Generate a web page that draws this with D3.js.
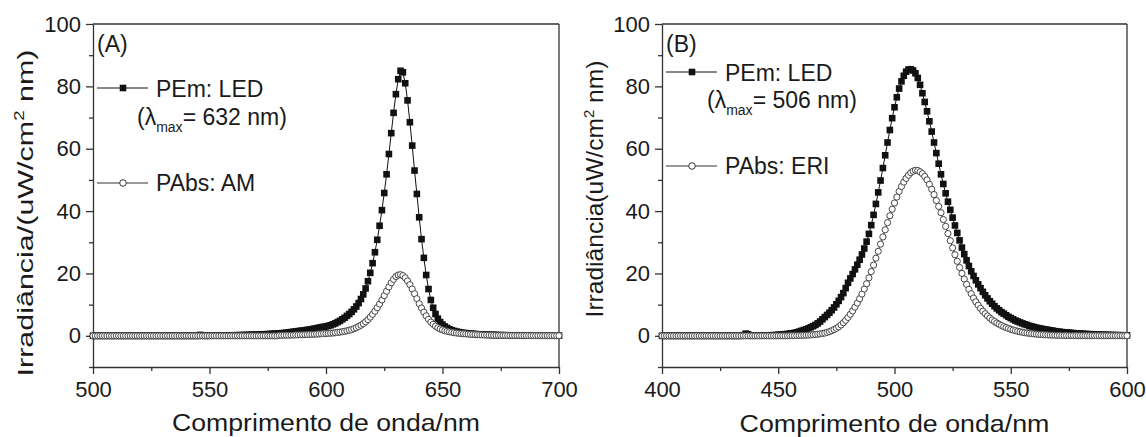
<!DOCTYPE html>
<html>
<head>
<meta charset="utf-8">
<script src="https://cdn.jsdelivr.net/npm/d3@7"></script>
<style>
  body { margin: 0; background: #fff; }
  text { font-family: "Liberation Sans", Arial, sans-serif; fill: #1a1a1a; }
</style>
</head>
<body>
<div id="chart"></div>
<script>
// wavelength grids, 1 nm sampling
var waveA = d3.range(500, 701);
var waveB = d3.range(400, 601);

// panel A: LED emission (PEm) and methylene blue absorbed (PAbs: AM), 500..700 nm
var ledA = [
  0,0,0,0,0,0,0,0,0,0,
  0,0,0,0,0,0,0,0,0,0,
  0,0,0,0,0,0,0,0,0,0,
  0,0,0,0,0,0,0,0,0,0,
  0,0,0,0,0,0,0.3,0.1,0,0,
  0.05,0.05,0.05,0.05,0.1,0.1,0.1,0.1,0.15,0.15,
  0.15,0.2,0.2,0.2,0.25,0.25,0.3,0.3,0.35,0.35,
  0.4,0.4,0.45,0.5,0.5,0.55,0.6,0.65,0.7,0.75,
  0.8,0.85,0.9,1.0,1.1,1.2,1.3,1.4,1.5,1.6,
  1.7,1.8,1.9,2.0,2.15,2.3,2.45,2.6,2.75,2.9,
  3.0,3.2,3.4,3.7,4.0,4.4,4.8,5.3,5.8,6.4,
  7.0,7.7,8.5,9.4,10.5,11.8,13.3,15.2,17.5,20.2,
  23.3,26.8,30.8,35.3,40.3,45.8,51.8,58.3,65.0,71.5,
  77.5,82.3,85.0,84.5,81.0,75.5,68.5,61.0,53.0,45.5,
  38.0,31.0,25.0,19.5,15.0,11.5,9.0,7.0,5.5,4.4,
  3.6,3.0,2.5,2.1,1.8,1.55,1.35,1.2,1.05,0.95,
  0.85,0.77,0.7,0.63,0.57,0.52,0.47,0.43,0.39,0.36,
  0.33,0.3,0.28,0.26,0.24,0.22,0.2,0.19,0.18,0.17,
  0.16,0.15,0.14,0.13,0.12,0.11,0.1,0.1,0.09,0.09,
  0.08,0.08,0.08,0.08,0.08,0.07,0.07,0.07,0.07,0.07,
  0.07
];
var amA = [
  0,0,0,0,0,0,0,0,0,0,
  0,0,0,0,0,0,0,0,0,0,
  0,0,0,0,0,0,0,0,0,0,
  0,0,0,0,0,0,0,0,0,0,
  0,0,0,0,0,0,0,0,0,0,
  0,0,0,0,0,0,0,0,0,0,
  0,0,0,0,0,0,0,0,0,0,
  0,0,0,0,0,0,0,0,0,0,
  0.15,0.15,0.2,0.2,0.2,0.25,0.25,0.3,0.3,0.35,
  0.35,0.4,0.4,0.45,0.5,0.5,0.55,0.6,0.65,0.7,
  0.75,0.8,0.85,0.9,1.0,1.1,1.2,1.3,1.45,1.6,
  1.8,2.0,2.3,2.6,3.0,3.4,3.9,4.5,5.2,6.0,
  6.9,7.9,9.0,10.2,11.5,12.9,14.3,15.7,17.0,18.1,
  19.0,19.5,19.6,19.3,18.6,17.6,16.4,15.0,13.5,11.9,
  10.3,8.9,7.6,6.4,5.3,4.4,3.7,3.1,2.6,2.2,
  1.9,1.65,1.45,1.3,1.15,1.0,0.9,0.82,0.75,0.68,
  0.62,0.56,0.5,0.45,0.4,0.36,0.33,0.3,0.27,0.25,
  0.23,0.21,0.19,0.17,0.16,0.15,0.14,0.13,0.12,0.11,
  0.1,0.1,0.09,0.09,0.08,0.08,0.07,0.07,0.06,0.06,
  0.06,0.05,0.05,0.05,0.05,0.04,0.04,0.04,0.04,0.04,
  0.04
];

// panel B: LED emission (PEm) and erythrosine absorbed (PAbs: ERI), 400..600 nm
var ledB = [
  0,0,0,0,0,0,0,0,0,0,
  0,0,0,0,0,0,0,0,0,0,
  0,0,0,0,0,0,0,0,0,0,
  0,0,0,0,0,0.2,0.7,0.5,0.1,0,
  0.05,0.05,0.1,0.1,0.1,0.15,0.15,0.2,0.2,0.25,
  0.35,0.4,0.45,0.52,0.6,0.7,0.82,0.96,1.12,1.35,
  1.6,1.85,2.1,2.4,2.75,3.1,3.5,4.0,4.6,5.3,
  6.0,6.7,7.4,8.2,9.1,10.1,11.2,12.4,13.7,15.3,
  17.0,18.4,19.8,21.3,22.8,24.4,26.1,28.0,30.2,32.7,
  35.5,38.8,42.3,46.0,49.8,53.8,57.9,62.0,66.0,69.8,
  73.3,76.5,79.3,81.6,83.4,84.7,85.4,85.5,85.1,84.2,
  82.7,80.5,77.8,75.0,72.0,68.8,65.5,62.0,58.6,55.2,
  51.8,48.7,45.7,43.0,40.4,37.9,35.4,33.0,30.6,28.3,
  26.2,24.2,22.4,20.7,19.2,17.8,16.5,15.3,14.1,13.0,
  12.0,11.1,10.3,9.5,8.8,8.2,7.6,7.1,6.6,6.1,
  5.7,5.3,4.9,4.6,4.3,4.0,3.7,3.5,3.2,3.0,
  2.8,2.6,2.45,2.3,2.15,2.0,1.9,1.75,1.65,1.5,
  1.4,1.3,1.2,1.1,1.05,1.0,0.93,0.87,0.8,0.75,
  0.7,0.65,0.6,0.56,0.52,0.48,0.45,0.42,0.39,0.36,
  0.33,0.31,0.29,0.27,0.25,0.23,0.21,0.2,0.19,0.18,
  0.17
];
var eriB = [
  0,0,0,0,0,0,0,0,0,0,
  0,0,0,0,0,0,0,0,0,0,
  0,0,0,0,0,0,0,0,0,0,
  0,0,0,0,0,0,0,0,0,0,
  0,0,0,0,0,0,0,0,0,0,
  0,0,0,0,0,0.05,0.05,0.08,0.1,0.12,
  0.15,0.18,0.21,0.25,0.3,0.36,0.43,0.52,0.63,0.76,
  0.9,1.1,1.35,1.65,2.0,2.4,2.9,3.5,4.2,5.0,
  5.9,6.9,8.0,9.2,10.5,11.9,13.4,15.0,16.7,18.6,
  20.6,22.7,24.9,27.1,29.4,31.7,34.0,36.3,38.5,40.6,
  42.6,44.5,46.3,47.9,49.3,50.5,51.5,52.3,52.8,53.1,
  53.0,52.6,52.0,51.1,50.0,48.6,47.0,45.3,43.4,41.5,
  39.5,37.3,35.1,32.8,30.5,28.2,26.0,23.9,21.9,20.0,
  18.2,16.5,14.9,13.5,12.1,10.9,9.8,8.8,7.9,7.1,
  6.4,5.7,5.1,4.6,4.1,3.7,3.3,2.95,2.65,2.35,
  2.1,1.85,1.65,1.45,1.3,1.15,1.0,0.9,0.8,0.7,
  0.62,0.55,0.48,0.43,0.38,0.33,0.29,0.26,0.23,0.2,
  0.18,0.16,0.14,0.13,0.12,0.11,0.1,0.09,0.08,0.08,
  0.07,0.07,0.06,0.06,0.06,0.05,0.05,0.05,0.05,0.04,
  0.04,0.04,0.04,0.04,0.04,0.04,0.04,0.04,0.04,0.04,
  0.04
];

var yMajor = [0, 20, 40, 60, 80, 100];
var yMinor = [-10, 10, 30, 50, 70, 90];

var svgWidth = 1146;
var svgHeight = 437;

var svg = d3.select("#chart")
  .append("svg")
  .attr("width", svgWidth)
  .attr("height", svgHeight);

var plotTop = 24, plotBottom = 367;

var panels = [
  {
    left: 93, right: 559,
    domain: [500, 700],
    xMajor: [500, 550, 600, 650, 700],
    xMinor: [525, 575, 625, 675],
    waves: waveA, em: ledA, abs: amA,
    tag: "(A)", lambda: "632", absName: "PAbs: AM",
    yTitle: "Irradiância/(uW/cm", yTitleX: 33, yTitleY: 213, yTitleLen: 327,
    xTitleY: 431, xTitleLen: 308,
    legendEmY: 88, legendAbsY: 183, lambdaY: 125, lambdaX: 137
  },
  {
    left: 662, right: 1127,
    domain: [400, 600],
    xMajor: [400, 450, 500, 550, 600],
    xMinor: [425, 475, 525, 575],
    waves: waveB, em: ledB, abs: eriB,
    tag: "(B)", lambda: "506", absName: "PAbs: ERI",
    yTitle: "Irradiância(uW/cm", yTitleX: 603, yTitleY: 189, yTitleLen: 257,
    xTitleY: 432, xTitleLen: 310,
    legendEmY: 72, legendAbsY: 166, lambdaY: 108, lambdaX: 707
  }
];

panels.forEach(function(p) {
  var x = d3.scaleLinear().domain(p.domain).range([p.left, p.right]);
  var y = d3.scaleLinear().domain([-10, 100]).range([plotBottom, plotTop]);

  var g = svg.append("g");

  // axes: major ticks with labels, minor ticks without
  g.append("g")
    .attr("transform", `translate(0, ${plotBottom})`)
    .call(d3.axisBottom(x).tickValues(p.xMajor).tickSize(7).tickSizeOuter(0).tickPadding(7));
  g.append("g")
    .attr("transform", `translate(0, ${plotBottom})`)
    .call(d3.axisBottom(x).tickValues(p.xMinor).tickSize(4).tickFormat(""))
    .select(".domain").remove();

  g.append("g")
    .attr("transform", `translate(${p.left}, 0)`)
    .call(d3.axisLeft(y).tickValues(yMajor).tickSize(7).tickSizeOuter(0).tickPadding(5));
  g.append("g")
    .attr("transform", `translate(${p.left}, 0)`)
    .call(d3.axisLeft(y).tickValues(yMinor).tickSize(4).tickFormat(""))
    .select(".domain").remove();

  g.selectAll(".domain, .tick line")
    .attr("stroke", "#333")
    .attr("stroke-width", 1.3);
  g.selectAll(".tick text")
    .attr("font-size", "22px")
    .attr("fill", "#1a1a1a")
    .style("font-family", "'Liberation Sans', Arial, sans-serif");

  // frame (top / right)
  g.append("line").attr("x1", p.left).attr("x2", p.right).attr("y1", plotTop).attr("y2", plotTop)
    .attr("stroke", "#333").attr("stroke-width", 1.3);
  g.append("line").attr("x1", p.right).attr("x2", p.right).attr("y1", plotTop).attr("y2", plotBottom)
    .attr("stroke", "#333").attr("stroke-width", 1.3);

  // axis titles, stretched along the text to the reference length
  var xt = g.append("text")
    .attr("text-anchor", "middle")
    .attr("font-size", "24px")
    .text("Comprimento de onda/nm");
  var xw = xt.node().getComputedTextLength();
  xt.attr("transform", `translate(${(p.left + p.right) / 2}, ${p.xTitleY}) scale(${p.xTitleLen / xw}, 1)`);

  var yt = g.append("text")
    .attr("text-anchor", "middle")
    .attr("font-size", "23px");
  yt.append("tspan").text(p.yTitle);
  yt.append("tspan").attr("dy", -9).attr("font-size", "14px").text("2");
  yt.append("tspan").attr("dy", 9).text(" nm)");
  var yw = yt.node().getBBox().width;
  yt.attr("transform", `translate(${p.yTitleX}, ${p.yTitleY}) rotate(-90) scale(${p.yTitleLen / yw}, 1)`);

  // series: emission first, absorbed on top
  var emData = p.waves.map(function(w, i) { return [w, p.em[i]]; });
  var absData = p.waves.map(function(w, i) { return [w, p.abs[i]]; });
  var line = d3.line().x(d => x(d[0])).y(d => y(d[1]));

  g.append("path").datum(emData)
    .attr("d", line).attr("fill", "none").attr("stroke", "#111").attr("stroke-width", 1);
  g.selectAll(".sq").data(emData).enter().append("rect")
    .attr("class", "sq")
    .attr("x", d => x(d[0]) - 3.3)
    .attr("y", d => y(d[1]) - 3.3)
    .attr("width", 6.6).attr("height", 6.6)
    .attr("fill", "#111");

  g.append("path").datum(absData)
    .attr("d", line).attr("fill", "none").attr("stroke", "#333").attr("stroke-width", 1);
  g.selectAll(".ci").data(absData).enter().append("circle")
    .attr("class", "ci")
    .attr("cx", d => x(d[0]))
    .attr("cy", d => y(d[1]))
    .attr("r", 3.1)
    .attr("fill", "#fff")
    .attr("stroke", "#333")
    .attr("stroke-width", 0.9);

  // legend
  g.append("text").attr("x", p.left + 4).attr("y", 52).attr("font-size", "23px").text(p.tag);

  var lx0 = p.left + 4, lx1 = p.left + 55, lxm = p.left + 30;
  g.append("line").attr("x1", lx0).attr("x2", lx1).attr("y1", p.legendEmY).attr("y2", p.legendEmY)
    .attr("stroke", "#111").attr("stroke-width", 1);
  g.append("rect").attr("x", lxm - 3.3).attr("y", p.legendEmY - 3.3).attr("width", 6.6).attr("height", 6.6)
    .attr("fill", "#111");
  g.append("text").attr("x", p.left + 63).attr("y", p.legendEmY + 9).attr("font-size", "23px").text("PEm: LED");

  var lt = g.append("text").attr("x", p.lambdaX).attr("y", p.lambdaY).attr("font-size", "23px");
  lt.append("tspan").text("(λ");
  lt.append("tspan").attr("dy", 7).attr("font-size", "14px").text("max");
  lt.append("tspan").attr("dy", -7).text("= " + p.lambda + " nm)");

  g.append("line").attr("x1", lx0).attr("x2", lx1).attr("y1", p.legendAbsY).attr("y2", p.legendAbsY)
    .attr("stroke", "#333").attr("stroke-width", 1);
  g.append("circle").attr("cx", lxm).attr("cy", p.legendAbsY).attr("r", 3.3)
    .attr("fill", "#fff").attr("stroke", "#333").attr("stroke-width", 1);
  g.append("text").attr("x", p.left + 63).attr("y", p.legendAbsY + 8).attr("font-size", "23px").text(p.absName);
});
</script>
</body>
</html>
